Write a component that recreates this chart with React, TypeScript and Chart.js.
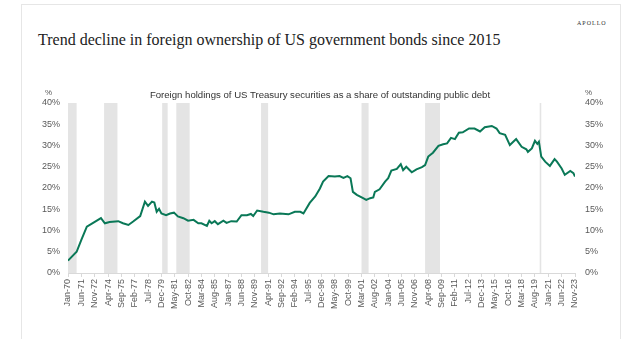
import { useEffect, useRef } from "react";
import { Chart, registerables } from "chart.js";

Chart.register(...registerables);

// Observation dates (YYYY-MM) and foreign share of US Treasury debt (%)
const obsDates = [
  "1970-01", "1970-12", "1971-06", "1972-01", "1972-09", "1973-07", "1973-12", "1974-06",
  "1975-05", "1975-11", "1976-06", "1976-12", "1977-09", "1978-03", "1978-07", "1978-12",
  "1979-03", "1979-06", "1979-09", "1979-12", "1980-06", "1980-11", "1981-04", "1981-09",
  "1982-04", "1982-10", "1983-05", "1983-11", "1984-03", "1984-10", "1985-01", "1985-04",
  "1985-08", "1985-12", "1986-07", "1986-11", "1987-05", "1987-12", "1988-06", "1989-01",
  "1989-06", "1989-09", "1990-02", "1990-10", "1991-05", "1991-11", "1992-07", "1993-06",
  "1994-02", "1994-09", "1995-01", "1995-09", "1996-04", "1996-10", "1997-02", "1997-09",
  "1998-05", "1998-11", "1999-04", "1999-09", "2000-01", "2000-04", "2000-09", "2001-05",
  "2001-09", "2002-02", "2002-06", "2002-08", "2003-02", "2003-09", "2004-01", "2004-05",
  "2004-12", "2005-05", "2005-08", "2005-12", "2006-07", "2007-01", "2007-08", "2007-12",
  "2008-04", "2008-10", "2009-05", "2009-11", "2010-04", "2010-09", "2011-02", "2011-07",
  "2011-12", "2012-08", "2013-03", "2013-10", "2014-04", "2015-01", "2015-07", "2015-11",
  "2016-06", "2016-12", "2017-08", "2018-03", "2018-09", "2018-11", "2019-04", "2019-08",
  "2019-11", "2020-01", "2020-04", "2020-09", "2021-03", "2021-09", "2021-12", "2022-06",
  "2022-10", "2023-05", "2023-09", "2023-11",
];
const shareValues = [
  2.9, 5.0, 7.8, 10.9, 11.8, 12.9, 11.7, 12.0,
  12.2, 11.7, 11.3, 12.1, 13.4, 16.8, 15.8, 16.8,
  16.6, 14.4, 15.1, 14.0, 13.6, 14.0, 14.2, 13.3,
  12.9, 12.3, 12.5, 11.7, 11.7, 11.1, 12.3, 11.7,
  12.2, 11.5, 12.3, 11.8, 12.2, 12.1, 13.6, 13.6,
  13.9, 13.4, 14.7, 14.4, 14.2, 13.8, 14.0, 13.8,
  14.4, 14.4, 14.0, 16.5, 18.0, 19.9, 21.5, 22.8,
  22.7, 22.8, 22.4, 22.8, 22.3, 19.1, 18.4, 17.6,
  17.2, 17.6, 17.8, 19.1, 19.7, 21.5, 22.3, 24.1,
  24.5, 25.6, 24.2, 25.0, 23.7, 24.4, 24.9, 25.4,
  27.4, 28.3, 29.9, 30.3, 30.5, 31.8, 31.5, 33.0,
  33.1, 34.0, 34.0, 33.3, 34.3, 34.6, 34.0, 32.9,
  32.5, 30.1, 31.5, 29.7, 29.1, 28.5, 29.3, 31.1,
  30.4, 30.9, 27.4, 26.2, 25.2, 26.8, 26.2, 24.6,
  23.1, 24.0, 23.5, 22.7,
];

// Recession periods (first and last month)
const recessionStarts = ["1970-01", "1973-11", "1980-01", "1981-07", "1990-07", "2001-03", "2007-12", "2020-02"];
const recessionEnds = ["1970-11", "1975-03", "1980-07", "1982-11", "1991-03", "2001-11", "2009-06", "2020-03"];

const xTickLabels = [
  "Jan-70", "Jun-71", "Nov-72", "Apr-74", "Sep-75", "Feb-77", "Jul-78", "Dec-79", "May-81", "Oct-82",
  "Mar-84", "Aug-85", "Jan-87", "Jun-88", "Nov-89", "Apr-91", "Sep-92", "Feb-94", "Jul-95", "Dec-96",
  "May-98", "Oct-99", "Mar-01", "Aug-02", "Jan-04", "Jun-05", "Nov-06", "Apr-08", "Sep-09", "Feb-11",
  "Jul-12", "Dec-13", "May-15", "Oct-16", "Mar-18", "Aug-19", "Jan-21", "Jun-22", "Nov-23",
];

const yMin = 0;
const yMax = 40;
const yStep = 5;

const MONTHS = ["Jan", "Feb", "Mar", "Apr", "May", "Jun", "Jul", "Aug", "Sep", "Oct", "Nov", "Dec"];

function monthIndex(s: string): number {
  const [y, m] = s.split("-").map(Number);
  return (y - 1970) * 12 + (m - 1);
}
function labelIndex(l: string): number {
  const [mon, yy] = l.split("-");
  const n = Number(yy);
  const y = n < 50 ? 2000 + n : 1900 + n;
  return (y - 1970) * 12 + MONTHS.indexOf(mon);
}

const recessionPlugin = {
  id: "recessions",
  beforeDatasetsDraw(chart: any) {
    const { ctx } = chart;
    const xs = chart.scales.x;
    const ys = chart.scales.y;
    const top = ys.getPixelForValue(yMax);
    const bottom = ys.getPixelForValue(yMin);
    ctx.save();
    ctx.fillStyle = "#e4e4e4";
    recessionStarts.forEach((s, i) => {
      const x1 = xs.getPixelForValue(monthIndex(s));
      const x2 = xs.getPixelForValue(Math.min(monthIndex(recessionEnds[i]) + 1, 646));
      ctx.fillRect(x1, top, x2 - x1, bottom - top);
    });
    ctx.restore();
  },
};

export default function App() {
  const canvasRef = useRef<HTMLCanvasElement | null>(null);

  useEffect(() => {
    if (!canvasRef.current) return;
    const points = obsDates.map((d, i) => ({ x: monthIndex(d), y: shareValues[i] }));
    const tickFont = { family: "'Liberation Sans', Arial, sans-serif", size: 9 };
    const chart = new Chart(canvasRef.current, {
      type: "line",
      data: {
        datasets: [
          {
            data: points,
            borderColor: "#0a7857",
            borderWidth: 2,
            pointRadius: 0,
            tension: 0,
            yAxisID: "y",
          },
        ],
      },
      plugins: [recessionPlugin],
      options: {
        responsive: false,
        animation: false,
        layout: { padding: { left: 28, right: 25, top: 103, bottom: 26 } },
        plugins: { legend: { display: false }, tooltip: { enabled: false } },
        scales: {
          x: {
            type: "linear",
            min: 0,
            max: labelIndex(xTickLabels[xTickLabels.length - 1]),
            afterBuildTicks(scale: any) {
              scale.ticks = xTickLabels.map((l) => ({ value: labelIndex(l) }));
            },
            afterFit(scale: any) {
              scale.height = 40;
            },
            ticks: {
              autoSkip: false,
              minRotation: 90,
              maxRotation: 90,
              padding: 2,
              color: "#595959",
              font: tickFont,
              callback: (_v: any, i: number) => xTickLabels[i],
            },
            grid: { drawOnChartArea: false, drawTicks: true, tickLength: 4, color: "#d9d9d9" },
            border: { display: true, color: "#d9d9d9" },
          },
          y: {
            position: "left",
            min: yMin,
            max: yMax,
            afterFit(scale: any) {
              scale.width = 40;
            },
            ticks: {
              stepSize: yStep,
              padding: 8,
              color: "#595959",
              font: tickFont,
              callback: (v: any) => v + "%",
            },
            grid: { display: false, drawTicks: false },
            border: { display: false },
          },
          y2: {
            position: "right",
            min: yMin,
            max: yMax,
            afterFit(scale: any) {
              scale.width = 40;
            },
            ticks: {
              stepSize: yStep,
              padding: 10,
              color: "#595959",
              font: tickFont,
              callback: (v: any) => v + "%",
            },
            grid: { display: false, drawTicks: false },
            border: { display: false },
          },
        },
      } as any,
    });
    return () => chart.destroy();
  }, []);

  const sans = "'Liberation Sans', Arial, sans-serif";
  const serif = "'Liberation Serif', 'Times New Roman', serif";

  return (
    <div style={{ position: "absolute", left: 0, top: 0, width: 640, height: 339, overflow: "hidden", background: "#fff" }}>
      <div
        style={{
          position: "absolute",
          left: 21,
          top: 4,
          width: 600,
          height: 400,
          border: "1px solid #e6e6e6",
          boxSizing: "border-box",
        }}
      />
      <div
        style={{
          position: "absolute",
          left: 577,
          top: 19,
          fontFamily: serif,
          fontSize: 6,
          letterSpacing: 1,
          color: "#333",
          lineHeight: "8px",
        }}
      >
        APOLLO
      </div>
      <div
        style={{
          position: "absolute",
          left: 38,
          top: 29,
          fontFamily: serif,
          fontSize: 16,
          color: "#222",
          lineHeight: "22px",
          whiteSpace: "nowrap",
        }}
      >
        Trend decline in foreign ownership of US government bonds since 2015
      </div>
      <canvas ref={canvasRef} width={640} height={339} style={{ position: "absolute", left: 0, top: 0 }} />
      <div
        style={{
          position: "absolute",
          left: 0,
          width: 640,
          top: 89,
          textAlign: "center",
          fontFamily: sans,
          fontSize: 9.6,
          color: "#333",
          lineHeight: "12px",
          whiteSpace: "nowrap",
        }}
      >
        Foreign holdings of US Treasury securities as a share of outstanding public debt
      </div>
      <div style={{ position: "absolute", left: 45, top: 88, fontFamily: sans, fontSize: 8, color: "#595959", lineHeight: "10px" }}>%</div>
      <div style={{ position: "absolute", left: 585, top: 88, fontFamily: sans, fontSize: 8, color: "#595959", lineHeight: "10px" }}>%</div>
    </div>
  );
}
